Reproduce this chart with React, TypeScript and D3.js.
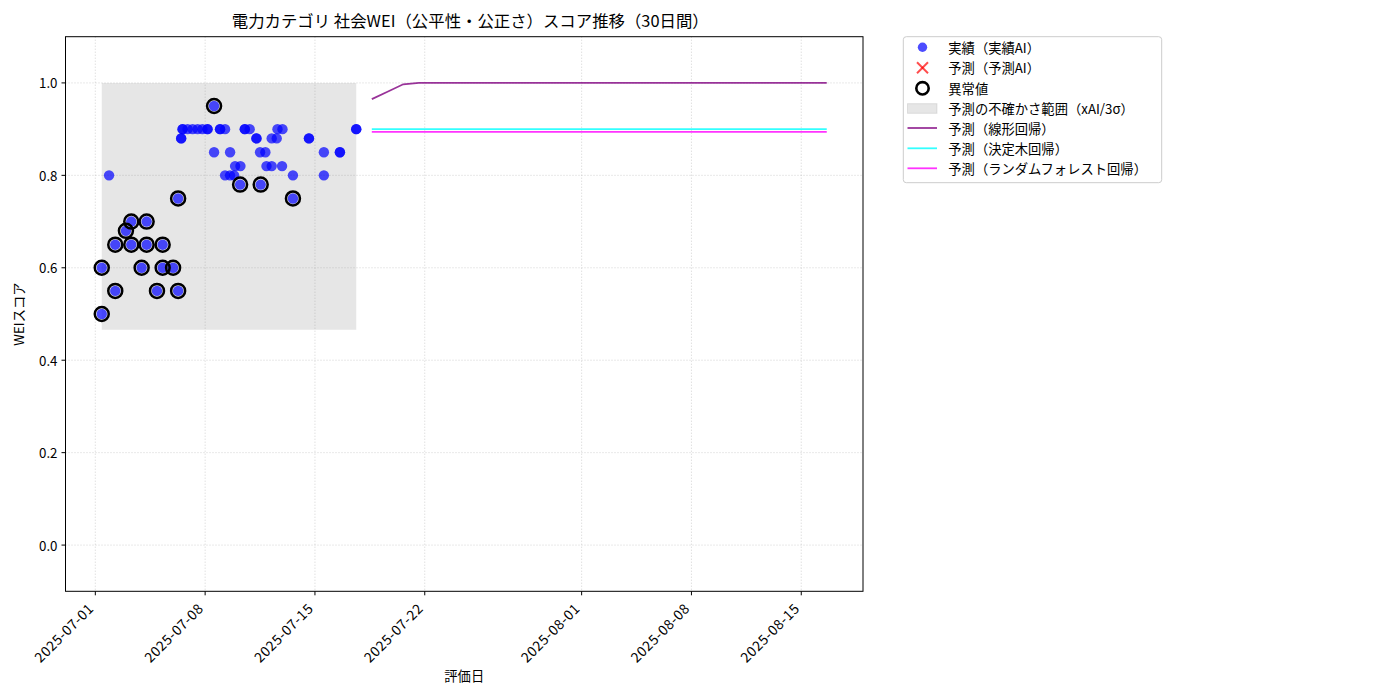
import * as d3 from 'd3'

const actualTimes = [
  '2025-07-01T09:50', '2025-07-01T09:50', '2025-07-01T21:00', '2025-07-02T06:30', '2025-07-02T06:30',
  '2025-07-02T22:50', '2025-07-03T07:00', '2025-07-03T07:00', '2025-07-03T22:50', '2025-07-04T06:30',
  '2025-07-04T06:30', '2025-07-04T22:20', '2025-07-05T07:00', '2025-07-05T07:00', '2025-07-05T23:00',
  '2025-07-06T06:40', '2025-07-06T06:40', '2025-07-06T11:20', '2025-07-06T11:20', '2025-07-06T13:30',
  '2025-07-06T13:30', '2025-07-06T21:10', '2025-07-07T04:50', '2025-07-07T12:30', '2025-07-07T19:50',
  '2025-07-08T03:40', '2025-07-08T03:40', '2025-07-08T13:40', '2025-07-08T13:40', '2025-07-08T22:50',
  '2025-07-08T22:50', '2025-07-09T06:30', '2025-07-09T06:30', '2025-07-09T14:10', '2025-07-09T14:10',
  '2025-07-09T20:20', '2025-07-09T21:50', '2025-07-10T05:30', '2025-07-10T06:00', '2025-07-10T12:40',
  '2025-07-10T12:40', '2025-07-10T20:10', '2025-07-11T06:30', '2025-07-11T06:30', '2025-07-11T12:00',
  '2025-07-11T13:00', '2025-07-11T20:10', '2025-07-11T21:50', '2025-07-12T05:50', '2025-07-12T05:50',
  '2025-07-12T13:30', '2025-07-12T14:40', '2025-07-12T21:40', '2025-07-12T22:20', '2025-07-13T14:20',
  '2025-07-13T14:20', '2025-07-14T14:50', '2025-07-14T14:50', '2025-07-15T13:40', '2025-07-15T13:40',
  '2025-07-16T14:10', '2025-07-16T14:10', '2025-07-17T15:10', '2025-07-17T15:10',
]
const actualScores = [
  0.5, 0.6, 0.8, 0.65, 0.55,
  0.68, 0.7, 0.65, 0.6, 0.7,
  0.65, 0.55, 0.6, 0.65, 0.6,
  0.75, 0.55, 0.88, 0.88, 0.9,
  0.9, 0.9, 0.9, 0.9, 0.9,
  0.9, 0.9, 0.95, 0.85, 0.9,
  0.9, 0.9, 0.8, 0.85, 0.8,
  0.8, 0.82, 0.78, 0.82, 0.9,
  0.9, 0.9, 0.88, 0.88, 0.85,
  0.78, 0.85, 0.82, 0.88, 0.82,
  0.88, 0.9, 0.82, 0.9, 0.8,
  0.75, 0.88, 0.88, 0.85, 0.8,
  0.85, 0.85, 0.9, 0.9,
]

const anomalyTimes = [
  '2025-07-01T09:50', '2025-07-01T09:50', '2025-07-02T06:30', '2025-07-02T06:30', '2025-07-02T22:50',
  '2025-07-03T07:00', '2025-07-03T07:00', '2025-07-03T22:50', '2025-07-04T06:30', '2025-07-04T06:30',
  '2025-07-04T22:20', '2025-07-05T07:00', '2025-07-05T07:00', '2025-07-05T23:00', '2025-07-06T06:40',
  '2025-07-06T06:40', '2025-07-08T13:40', '2025-07-10T05:30', '2025-07-11T13:00', '2025-07-13T14:20',
]
const anomalyScores = [
  0.5, 0.6, 0.65, 0.55, 0.68,
  0.7, 0.65, 0.6, 0.7, 0.65,
  0.55, 0.6, 0.65, 0.6, 0.75,
  0.55, 0.95, 0.78, 0.78, 0.75,
]

// uncertainty band (xAI / 3 sigma)
const bandLower = 0.466
const bandUpper = 1.0

const forecastTimes = [
  '2025-07-18T15:00', '2025-07-19T15:00', '2025-07-20T15:00', '2025-07-21T15:00', '2025-07-22T15:00',
  '2025-07-23T15:00', '2025-07-24T15:00', '2025-07-25T15:00', '2025-07-26T15:00', '2025-07-27T15:00',
  '2025-07-28T15:00', '2025-07-29T15:00', '2025-07-30T15:00', '2025-07-31T15:00', '2025-08-01T15:00',
  '2025-08-02T15:00', '2025-08-03T15:00', '2025-08-04T15:00', '2025-08-05T15:00', '2025-08-06T15:00',
  '2025-08-07T15:00', '2025-08-08T15:00', '2025-08-09T15:00', '2025-08-10T15:00', '2025-08-11T15:00',
  '2025-08-12T15:00', '2025-08-13T15:00', '2025-08-14T15:00', '2025-08-15T15:00', '2025-08-16T15:00',
]
const linearForecast = [
  0.965, 0.981, 0.997, 1.0, 1.0, 1.0, 1.0, 1.0, 1.0, 1.0,
  1.0, 1.0, 1.0, 1.0, 1.0, 1.0, 1.0, 1.0, 1.0, 1.0,
  1.0, 1.0, 1.0, 1.0, 1.0, 1.0, 1.0, 1.0, 1.0, 1.0,
]
const treeForecast = [
  0.9, 0.9, 0.9, 0.9, 0.9, 0.9, 0.9, 0.9, 0.9, 0.9,
  0.9, 0.9, 0.9, 0.9, 0.9, 0.9, 0.9, 0.9, 0.9, 0.9,
  0.9, 0.9, 0.9, 0.9, 0.9, 0.9, 0.9, 0.9, 0.9, 0.9,
]
const forestForecast = [
  0.894, 0.894, 0.894, 0.894, 0.894, 0.894, 0.894, 0.894, 0.894, 0.894,
  0.894, 0.894, 0.894, 0.894, 0.894, 0.894, 0.894, 0.894, 0.894, 0.894,
  0.894, 0.894, 0.894, 0.894, 0.894, 0.894, 0.894, 0.894, 0.894, 0.894,
]

const xTickLabels = ['2025-07-01', '2025-07-08', '2025-07-15', '2025-07-22', '2025-08-01', '2025-08-08', '2025-08-15']
const yTicks = [0.0, 0.2, 0.4, 0.6, 0.8, 1.0]

const title = '電力カテゴリ 社会WEI（公平性・公正さ）スコア推移（30日間）'
const legendLabels = [
  '実績（実績AI）',
  '予測（予測AI）',
  '異常値',
  '予測の不確かさ範囲（xAI/3σ）',
  '予測（線形回帰）',
  '予測（決定木回帰）',
  '予測（ランダムフォレスト回帰）',
]

const width = 1400
const height = 700
const marginLeft = 65.5
const marginRight = 863
const marginTop = 36.7
const marginBottom = 591.3
const font = '"Noto Sans CJK JP", "Noto Sans", sans-serif'

const parse = (s: string) => new Date(s)
const parseDay = (s: string) => {
  const [y, m, d] = s.split('-').map(Number)
  return new Date(y, m - 1, d)
}

export default function App() {
  const allTimes = [...actualTimes, ...forecastTimes].map(s => parse(s).getTime())
  const t0 = d3.min(allTimes)!
  const t1 = d3.max(allTimes)!
  const pad = (t1 - t0) * 0.05
  const x = d3.scaleTime([new Date(t0 - pad), new Date(t1 + pad)], [marginLeft, marginRight])
  const y = d3.scaleLinear([-0.1, 1.1], [marginBottom, marginTop])

  const bandTimes = d3.extent(actualTimes.map(parse)) as [Date, Date]
  const band = d3
    .area<Date>()
    .x(d => x(d))
    .y0(y(bandLower))
    .y1(y(bandUpper))

  const line = d3
    .line<[string, number]>()
    .x(d => x(parse(d[0])))
    .y(d => y(d[1]))

  const series = [
    { values: linearForecast, color: '#800080' },
    { values: treeForecast, color: '#00ffff' },
    { values: forestForecast, color: '#ff00ff' },
  ]

  const legendX = 903.3
  const legendY = 36.7
  const rowY = [47.3, 67.7, 88.3, 108.5, 128, 148.3, 168.3]
  const markX = 922.5

  return (
    <svg
      width={width}
      height={height}
      viewBox={`0 0 ${width} ${height}`}
      style={{ position: 'absolute', left: 0, top: 0, background: '#fff', fontFamily: font }}
    >
      <defs>
        <clipPath id="plot">
          <rect x={marginLeft} y={marginTop} width={marginRight - marginLeft} height={marginBottom - marginTop} />
        </clipPath>
      </defs>

      {/* grid */}
      <g stroke="#b0b0b0" strokeOpacity={0.7} strokeWidth={0.8} strokeDasharray="1,2">
        {xTickLabels.map(t => (
          <line key={t} x1={x(parseDay(t))} x2={x(parseDay(t))} y1={marginTop} y2={marginBottom} />
        ))}
        {yTicks.map(t => (
          <line key={t} x1={marginLeft} x2={marginRight} y1={y(t)} y2={y(t)} />
        ))}
      </g>

      <g clipPath="url(#plot)">
        <path d={band(bandTimes) ?? ''} fill="#808080" fillOpacity={0.2} />

        {actualTimes.map((t, i) => (
          <circle key={i} cx={x(parse(t))} cy={y(actualScores[i])} r={5.2} fill="#0000ff" fillOpacity={0.7} />
        ))}

        {anomalyTimes.map((t, i) => (
          <circle key={i} cx={x(parse(t))} cy={y(anomalyScores[i])} r={7} fill="none" stroke="#000" strokeWidth={2.5} />
        ))}

        {series.map(s => (
          <path
            key={s.color}
            d={line(forecastTimes.map((t, i) => [t, s.values[i]] as [string, number])) ?? ''}
            fill="none"
            stroke={s.color}
            strokeOpacity={0.8}
            strokeWidth={1.8}
          />
        ))}
      </g>

      {/* frame */}
      <rect
        x={marginLeft}
        y={marginTop}
        width={marginRight - marginLeft}
        height={marginBottom - marginTop}
        fill="none"
        stroke="#000"
        strokeWidth={1}
      />

      {/* x axis */}
      <g fontSize={13.9} fill="#000">
        {xTickLabels.map(t => {
          const px = x(parseDay(t))
          return (
            <g key={t}>
              <line x1={px} x2={px} y1={marginBottom} y2={marginBottom + 4} stroke="#000" strokeWidth={1} />
              <text
                transform={`translate(${px - 5},${marginBottom + 14}) rotate(-45)`}
                textAnchor="end"
                dominantBaseline="central"
                letterSpacing={0.5}
              >
                {t}
              </text>
            </g>
          )
        })}
      </g>

      {/* y axis */}
      <g fontSize={13.3} fill="#000">
        {yTicks.map(t => (
          <g key={t}>
            <line x1={marginLeft - 4} x2={marginLeft} y1={y(t)} y2={y(t)} stroke="#000" strokeWidth={1} />
            <text x={marginLeft - 8} y={y(t)} textAnchor="end" dominantBaseline="central">
              {d3.format('.1f')(t)}
            </text>
          </g>
        ))}
      </g>

      <text x={(marginLeft + marginRight) / 2 + 6} y={27} textAnchor="middle" fontSize={16.4} fill="#000">
        {title}
      </text>
      <text x={(marginLeft + marginRight) / 2} y={681} textAnchor="middle" fontSize={13.3} fill="#000">
        評価日
      </text>
      <text
        transform={`translate(24,${(marginTop + marginBottom) / 2}) rotate(-90)`}
        textAnchor="middle"
        fontSize={13.3}
        fill="#000"
      >
        WEIスコア
      </text>

      {/* legend */}
      <g>
        <rect x={legendX} y={legendY} width={258.4} height={146} rx={3} fill="#fff" fillOpacity={0.8} stroke="#cccccc" />
        <circle cx={markX} cy={rowY[0]} r={4.7} fill="#0000ff" fillOpacity={0.7} />
        <g stroke="#ff0000" strokeOpacity={0.7} strokeWidth={2}>
          <line x1={markX - 5.5} x2={markX + 5.5} y1={rowY[1] - 5.5} y2={rowY[1] + 5.5} />
          <line x1={markX - 5.5} x2={markX + 5.5} y1={rowY[1] + 5.5} y2={rowY[1] - 5.5} />
        </g>
        <circle cx={markX} cy={rowY[2]} r={6.2} fill="none" stroke="#000" strokeWidth={2.6} />
        <rect x={907.5} y={rowY[3] - 4.8} width={29.5} height={9.6} fill="#808080" fillOpacity={0.2} stroke="#808080" strokeOpacity={0.2} />
        {series.map((s, i) => (
          <line
            key={s.color}
            x1={907.5}
            x2={937}
            y1={rowY[4 + i]}
            y2={rowY[4 + i]}
            stroke={s.color}
            strokeOpacity={0.8}
            strokeWidth={1.8}
          />
        ))}
        {legendLabels.map((l, i) => (
          <text key={l} x={948.3} y={rowY[i]} fontSize={13.3} dominantBaseline="central" fill="#000">
            {l}
          </text>
        ))}
      </g>
    </svg>
  )
}
